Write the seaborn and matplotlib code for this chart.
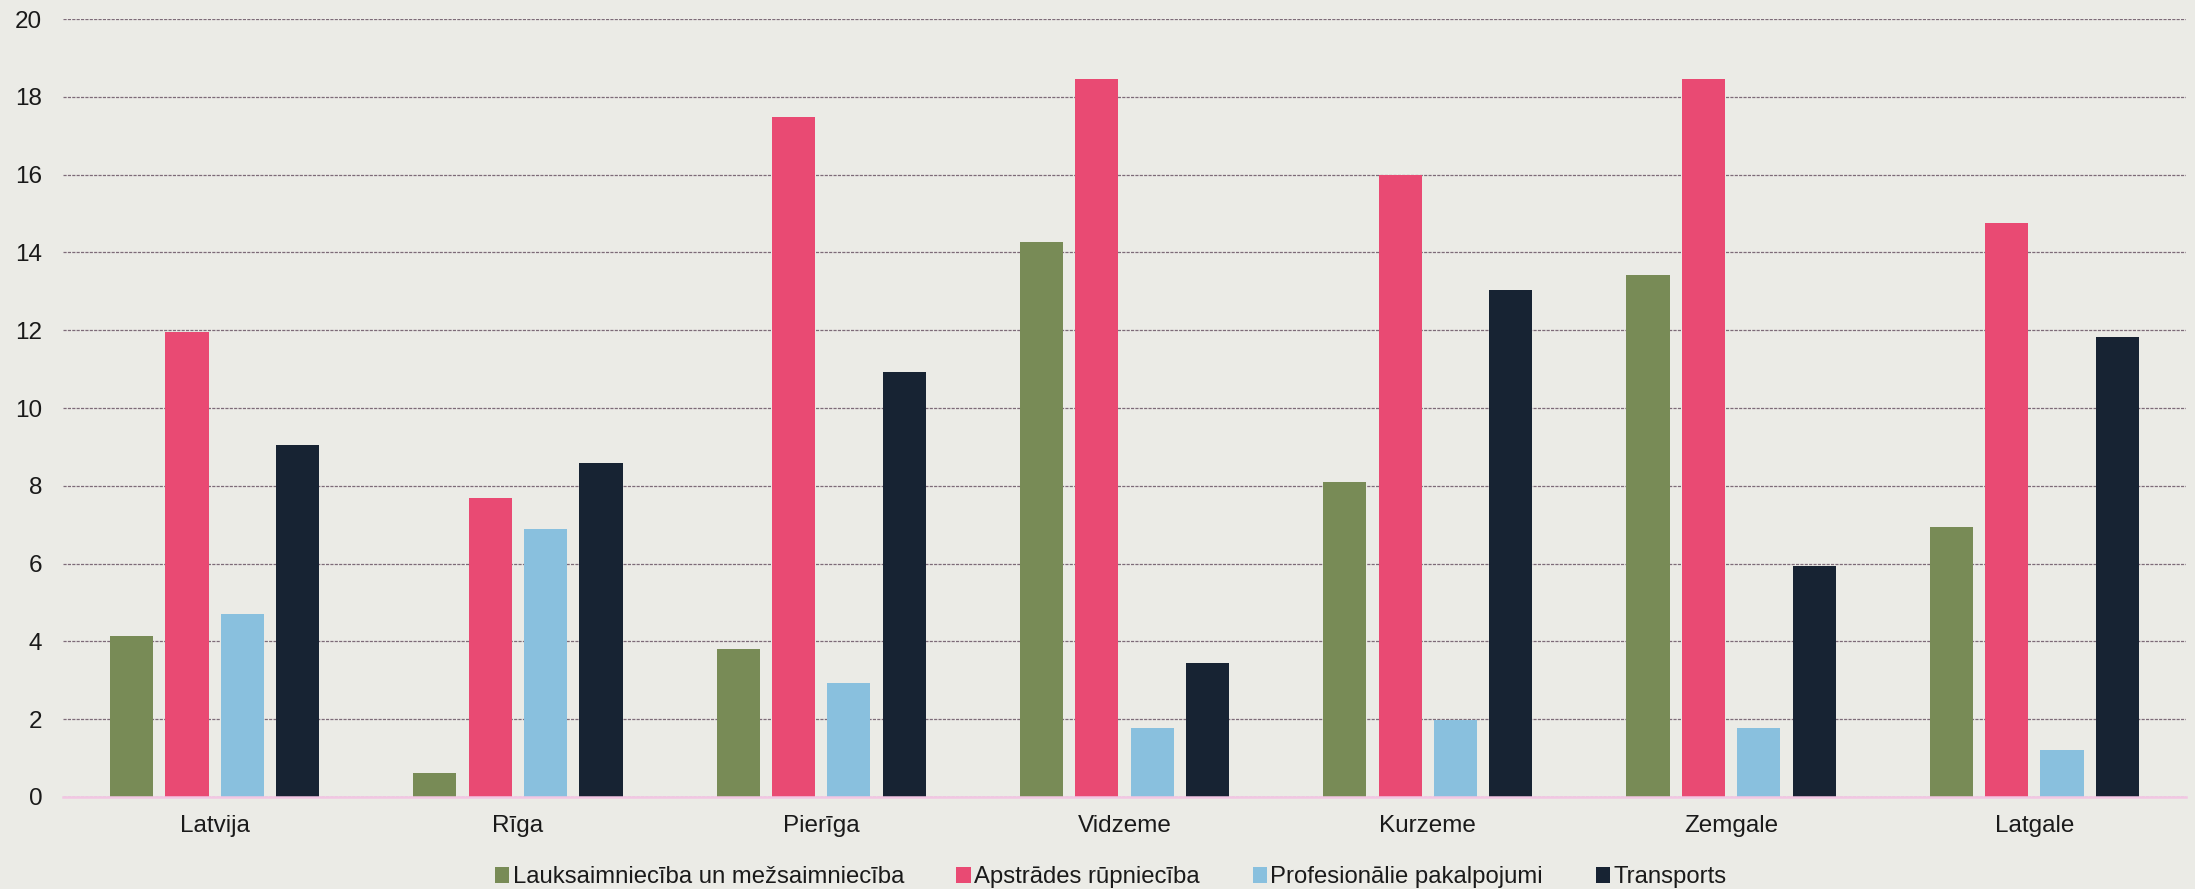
import matplotlib
matplotlib.use("Agg")
import matplotlib.pyplot as plt
import seaborn as sns
import pandas as pd

regions = ["Latvija", "Rīga", "Pierīga", "Vidzeme", "Kurzeme", "Zemgale", "Latgale"]
sectors = ["Lauksaimniecība un mežsaimniecība", "Apstrādes rūpniecība",
           "Profesionālie pakalpojumi", "Transports"]
agri = [4.14, 0.62, 3.81, 14.27, 8.10, 13.42, 6.95]
manuf = [11.95, 7.69, 17.48, 18.47, 16.00, 18.46, 14.75]
prof = [4.70, 6.89, 2.92, 1.77, 1.97, 1.77, 1.20]
transp = [9.05, 8.59, 10.93, 3.44, 13.03, 5.95, 11.83]
yticks = [0, 2, 4, 6, 8, 10, 12, 14, 16, 18, 20]
colors = ["#788B56", "#E94A73", "#89C0DE", "#172333"]

rows = []
for s, vals in zip(sectors, [agri, manuf, prof, transp]):
    for r, v in zip(regions, vals):
        rows.append({"region": r, "sector": s, "value": v})
df = pd.DataFrame(rows)

sns.set_theme(style="white")
plt.rcParams["font.family"] = ["Liberation Sans", "DejaVu Sans"]
bg = "#EBEBE6"
fig = plt.figure(figsize=(21.95, 8.89), dpi=100, facecolor=bg)
ax = fig.add_axes([0.0287, 0.1035, 0.9672, 0.8751])
ax.set_facecolor(bg)

sns.barplot(data=df, x="region", y="value", hue="sector", order=regions,
            hue_order=sectors, palette=colors, width=0.73, gap=0.22,
            saturation=1, linewidth=0, edgecolor="none", ax=ax, zorder=3)

ax.set_ylim(0, 20)
ax.set_xlim(-0.5, len(regions) - 0.5)
ax.set_yticks(yticks)
ax.set_yticklabels([str(t) for t in yticks])
ax.yaxis.grid(True, color="#7d6b78", linestyle=(0, (2.5, 1)), linewidth=0.9, zorder=0)
ax.set_axisbelow(True)
for s in ["top", "right", "left"]:
    ax.spines[s].set_visible(False)
ax.spines["bottom"].set_color("#F2C6E3")
ax.spines["bottom"].set_linewidth(1.8)
ax.spines["bottom"].set_zorder(4)
ax.tick_params(axis="y", length=0, pad=15, labelsize=17.5, labelcolor="#1a1a1a")
ax.tick_params(axis="x", length=0, pad=13, labelsize=17.5, labelcolor="#1a1a1a")
ax.set_xlabel("")
ax.set_ylabel("")

handles, labels = ax.get_legend_handles_labels()
if ax.get_legend() is not None:
    ax.get_legend().remove()
fig.legend(handles, labels, loc="center", bbox_to_anchor=(0.506, 0.013), ncol=4,
           frameon=False, fontsize=17.2, handlelength=0.6, handleheight=0.6,
           handletextpad=0.15, columnspacing=2.2, labelcolor="#1a1a1a")

fig.savefig("out.png", dpi=100, facecolor=bg)
